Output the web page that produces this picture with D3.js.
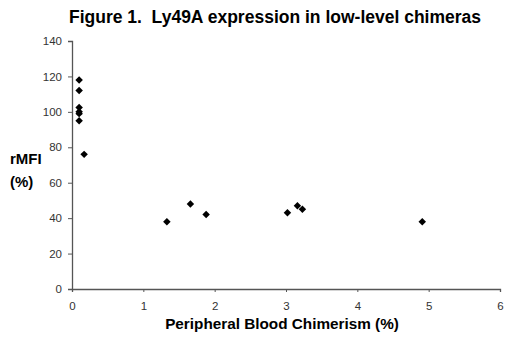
<!DOCTYPE html>
<html>
<head>
<meta charset="utf-8">
<script src="https://cdn.jsdelivr.net/npm/d3@7"></script>
<style>
  body { margin: 0; background: #fff; }
  svg { display: block; font-family: "Liberation Sans", Arial, sans-serif; }
</style>
</head>
<body>
<svg width="520" height="344"></svg>
<script>
// chimerism (%) and rMFI (%)
var chimerism = [0.10, 0.10, 0.10, 0.10, 0.10, 0.10, 0.17, 1.33, 1.66, 1.88, 3.02, 3.16, 3.23, 4.91];
var rmfi      = [118, 112, 102.5, 100, 99, 95, 76, 38, 48, 42, 43, 47, 45, 38];
var xTicks = [0, 1, 2, 3, 4, 5, 6];
var yTicks = [0, 20, 40, 60, 80, 100, 120, 140];

var svg = d3.select("svg");
var x = d3.scaleLinear().domain([0, 6]).range([72, 500]);
var y = d3.scaleLinear().domain([0, 140]).range([289, 41]);
var axisColor = "#555";

//title
svg.append("text")
	.attr("x", 275).attr("y", 23)
	.attr("text-anchor", "middle")
	.attr("font-size", 17.5).attr("font-weight", "bold")
	.style("white-space", "pre")
	.text("Figure 1.  Ly49A expression in low-level chimeras");

//y axis
var gy = svg.append("g")
	.attr("transform", "translate(72,0)")
	.call(d3.axisLeft(y).tickValues(yTicks).tickSize(4).tickPadding(6));
//x axis
var gx = svg.append("g")
	.attr("transform", "translate(0,289)")
	.call(d3.axisBottom(x).tickValues(xTicks).tickFormat(d3.format("d")).tickSize(3).tickPadding(10));

[gx, gy].forEach(function(g) {
	g.select(".domain").attr("stroke", axisColor).attr("stroke-width", 1.3);
	g.selectAll(".tick line").attr("stroke", axisColor);
	g.selectAll(".tick text").attr("fill", "#333").attr("font-size", 11.5)
		.attr("font-family", "Liberation Sans, Arial, sans-serif");
});

//axis titles
svg.append("text")
	.attr("x", 282).attr("y", 329)
	.attr("text-anchor", "middle")
	.attr("font-size", 15.3).attr("font-weight", "bold")
	.text("Peripheral Blood Chimerism (%)");
svg.append("text")
	.attr("x", 10).attr("y", 164)
	.attr("font-size", 15).attr("font-weight", "bold")
	.text("rMFI");
svg.append("text")
	.attr("x", 10).attr("y", 187)
	.attr("font-size", 15).attr("font-weight", "bold")
	.text("(%)");

//points
var diamond = d3.symbol().type(d3.symbolSquare).size(28);
svg.selectAll("path.pt")
	.data(chimerism)
	.enter()
	.append("path")
		.attr("class", "pt")
		.attr("d", diamond)
		.attr("fill", "#000")
		.attr("transform", function(d, i) { return "translate(" + x(d) + "," + y(rmfi[i]) + ") rotate(45)"; });
</script>
</body>
</html>
